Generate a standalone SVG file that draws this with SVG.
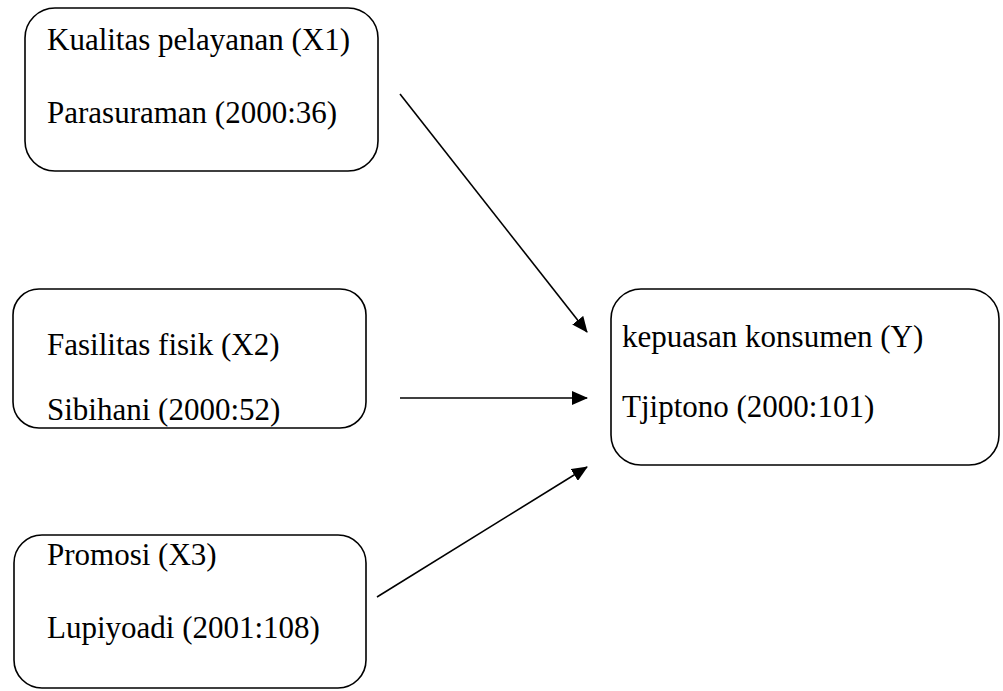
<svg xmlns="http://www.w3.org/2000/svg" width="1003" height="691" viewBox="0 0 1003 691">
<style>
.box{fill:#fff;stroke:#000;stroke-width:1.6}
.t{font-family:'Liberation Serif','Times New Roman',Times,serif;font-size:31px;fill:#000}
.c{stroke:#000;stroke-width:1.6;fill:none}
</style>
<defs>
<marker id="ah" markerWidth="16" markerHeight="14" refX="15" refY="7" orient="auto" markerUnits="userSpaceOnUse" viewBox="0 0 16 14">
<path d="M0,0 L16,7 L0,14 z" fill="#000"/>
</marker>
</defs>
<rect width="1003" height="691" fill="#fff"/>
<g id="x1">
<rect class="box" x="25" y="8" width="353" height="163" rx="30"/>
<text class="t" x="47" y="50">Kualitas pelayanan (X1)</text>
<text class="t" x="47" y="123">Parasuraman (2000:36)</text>
</g>
<g id="x2">
<rect class="box" x="13" y="289" width="353" height="139" rx="26"/>
<text class="t" x="47" y="355">Fasilitas fisik (X2)</text>
<text class="t" x="47" y="420">Sibihani (2000:52)</text>
</g>
<g id="x3">
<rect class="box" x="14" y="535" width="352" height="153" rx="28"/>
<text class="t" x="47" y="565">Promosi (X3)</text>
<text class="t" x="47" y="638">Lupiyoadi (2001:108)</text>
</g>
<g id="y">
<rect class="box" x="611" y="289" width="388" height="176" rx="30"/>
<text class="t" x="622" y="347">kepuasan konsumen (Y)</text>
<text class="t" x="622" y="417">Tjiptono (2000:101)</text>
</g>
<g id="connectors">
<line class="c" x1="400" y1="94" x2="587" y2="332" marker-end="url(#ah)"/>
<line class="c" x1="400" y1="398" x2="587" y2="398" marker-end="url(#ah)"/>
<line class="c" x1="377" y1="597" x2="587" y2="467" marker-end="url(#ah)"/>
</g>
</svg>
